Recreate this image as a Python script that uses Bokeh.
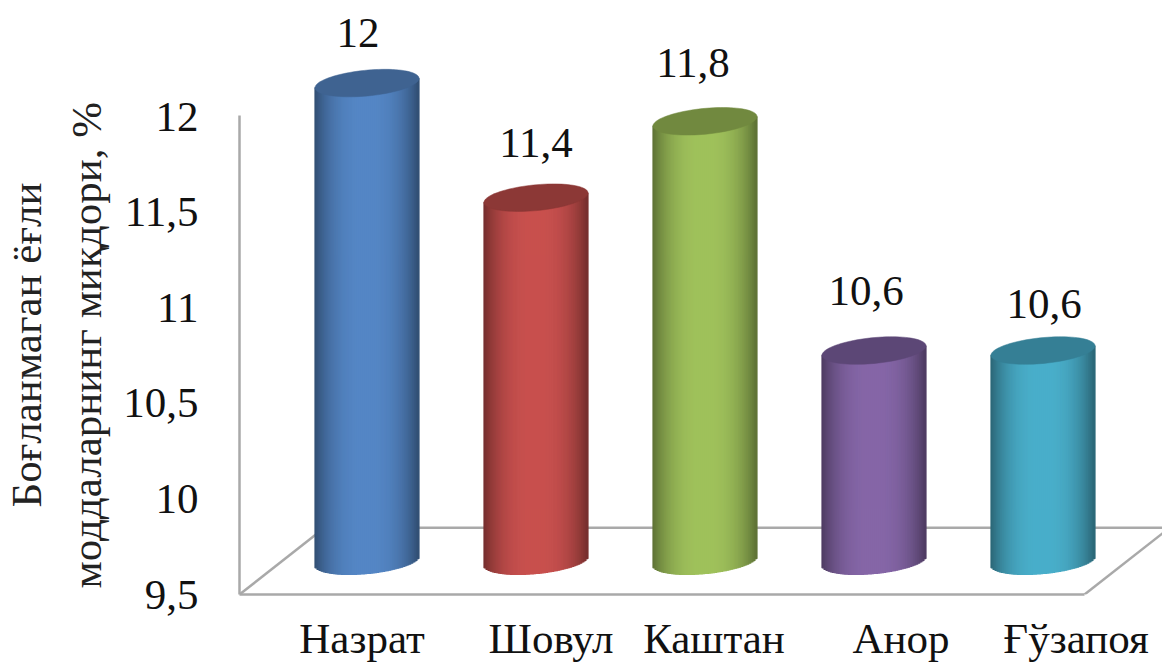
from bokeh.plotting import figure
from bokeh.models import Range1d, FixedTicker, ColumnDataSource, Title
from bokeh.core.properties import value
from bokeh.embed import file_html
from bokeh.resources import INLINE
import numpy as np

# ---- data ----
categories = ["Назрат", "Шовул", "Каштан", "Анор", "Ғўзапоя"]
values = [12, 11.4, 11.8, 10.6, 10.6]
value_labels = ["12", "11,4", "11,8", "10,6", "10,6"]
y_ticks = [9.5, 10, 10.5, 11, 11.5, 12]
y_tick_labels = ["9,5", "10", "10,5", "11", "11,5", "12"]
y_title_lines = ["Боғланмаган ёғли", "моддаларнинг миқдори, %"]

# ---- styles ----
bar_colors = [(85, 135, 198), (201, 81, 79), (160, 194, 92), (134, 103, 168), (74, 175, 203)]
cap_colors = ["#3F6391", "#8C3836", "#71893F", "#5C4776", "#357F95"]
label_dx = [-9, 0, -12, -8, 1]
label_dy = [50, 55, 58, 60, 47]
cat_dx = [-5, 15, 9, 27, 33]
title_offsets = [87, 6]
title_standoffs = [1, 21]
GRID = "#A9A9A9"
FONT = "Liberation Serif"
FS = "43px"

W, H = 1162, 664
LEFT, BOTTOM = 239, 67
PX_X = 169.0          # px per category
PX_Y = 192.0          # px per unit value
FIRST_CENTER = 366.5 - LEFT
frame_w = W - LEFT
frame_h = H - BOTTOM
x0 = -FIRST_CENTER / PX_X
x1 = x0 + frame_w / PX_X
y0 = 9.5
y1 = y0 + frame_h / PX_Y

DEPTH = 34 / PX_Y     # how far the bars stand behind the front axis plane
A = 52 / PX_X         # half width of a cylinder
B = 13 / PX_Y         # half height of its end ellipses
S = (9.5 / 104) * PX_X / PX_Y  # tilt of the ellipses


def px_x(px):
    return x0 + (px - LEFT) / PX_X


p = figure(width=W, height=H, output_backend="svg", toolbar_location=None,
           x_range=Range1d(x0, x1), y_range=Range1d(y0, y1),
           min_border_left=LEFT, min_border_right=0, min_border_top=0,
           min_border_bottom=BOTTOM, outline_line_color=None,
           background_fill_color="white", border_fill_color="white")
p.grid.visible = False

# ---- floor ----
floor_back = y0 + 67 / PX_Y
floor_run = 85 / PX_X
front_end = px_x(1084)
p.segment([x0, front_end, x0 + floor_run], [y0, y0, floor_back],
          [x0 + floor_run, front_end + floor_run, x1], [floor_back, floor_back, floor_back],
          line_color=GRID, line_width=2.5)

# ---- cylinders ----
N = 52
edges = np.linspace(-1, 1, N + 1)
mids = (edges[:-1] + edges[1:]) / 2
for i, v in enumerate(values):
    base = y0 + DEPTH
    top = v + DEPTH
    rgb = np.array(bar_colors[i])
    shade = 0.58 + 0.42 * (1 - np.abs(mids) ** 2.6)
    cols = ["#%02x%02x%02x" % tuple(int(c) for c in rgb * s) for s in shade]
    bottoms = base + S * A * mids - B * np.sqrt(np.clip(1 - mids ** 2, 0, 1))
    tops = top + S * A * mids
    p.quad(left=i + A * edges[:-1], right=i + A * edges[1:], top=tops, bottom=bottoms,
           fill_color=cols, line_color=cols, line_width=1.2)
    th = np.linspace(0, 2 * np.pi, 90)
    ex = np.cos(th)
    ey = top + S * A * ex + B * np.sin(th)
    p.patch(i + A * ex, ey, fill_color=cap_colors[i], line_color=cap_colors[i], line_width=0.5)

# ---- value labels ----
src = ColumnDataSource(dict(
    x=list(range(len(values))),
    y=[v + DEPTH for v in values],
    t=value_labels, dx=label_dx, dy=[-d for d in label_dy]))
p.text("x", "y", text="t", source=src, x_offset="dx", y_offset="dy",
       text_align="center", text_baseline="middle", text_color="#111111",
       text_font=value(FONT), text_font_size=FS)

# ---- axes ----
xa = p.xaxis[0]
xt = [i + d / PX_X for i, d in enumerate(cat_dx)]
xa.ticker = FixedTicker(ticks=xt)
xa.major_label_overrides = {t: c for t, c in zip(xt, categories)}
xa.bounds = (x0, front_end)
xa.axis_line_color = GRID
xa.axis_line_width = 2.5
xa.major_tick_line_color = None
xa.minor_tick_line_color = None
xa.major_label_standoff = 14
xa.major_label_text_font = FONT
xa.major_label_text_font_size = FS
xa.major_label_text_color = "#111111"

ya = p.yaxis[0]
ya.ticker = FixedTicker(ticks=y_ticks)
ya.major_label_overrides = {t: l for t, l in zip(y_ticks, y_tick_labels)}
ya.bounds = (9.5, 12.01)
ya.axis_line_color = GRID
ya.axis_line_width = 2.5
ya.major_tick_line_color = None
ya.minor_tick_line_color = None
ya.major_label_standoff = 35
ya.major_label_orientation = "horizontal"
ya.major_label_text_font = FONT
ya.major_label_text_font_size = FS
ya.major_label_text_color = "#111111"

for line, off, so in reversed(list(zip(y_title_lines, title_offsets, title_standoffs))):
    p.add_layout(Title(text=line, align="left", offset=off, standoff=so,
                       text_font=FONT, text_font_size=FS, text_font_style="normal",
                       text_color="#222222"), "left")

open("out.html", "w").write(file_html(p, INLINE))
